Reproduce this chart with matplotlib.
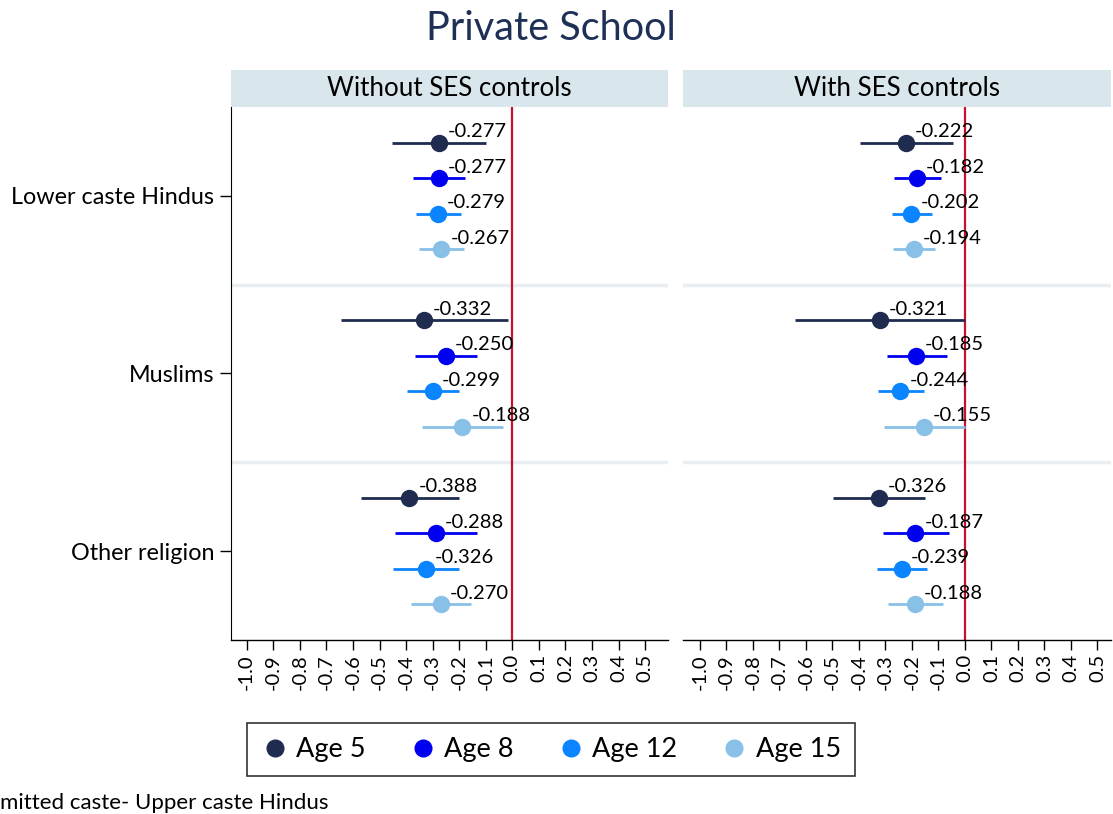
import numpy as np
import matplotlib.pyplot as plt
from matplotlib.lines import Line2D
from matplotlib.patches import Rectangle

plt.rcParams['font.family'] = ['Lato', 'DejaVu Sans']

groups = ["Lower caste Hindus", "Muslims", "Other religion"]
ages = ["Age 5", "Age 8", "Age 12", "Age 15"]
colors = ["#1f2c50", "#0000f0", "#0a84ff", "#88c0e8"]
panels = ["Without SES controls", "With SES controls"]

# rows = group, cols = age
est_no = [[-0.277, -0.277, -0.279, -0.267],
          [-0.332, -0.250, -0.299, -0.188],
          [-0.388, -0.288, -0.326, -0.270]]
lo_no = [[-0.453, -0.373, -0.363, -0.350],
         [-0.645, -0.366, -0.395, -0.340],
         [-0.570, -0.442, -0.448, -0.383]]
hi_no = [[-0.099, -0.178, -0.193, -0.182],
         [-0.017, -0.132, -0.201, -0.034],
         [-0.202, -0.132, -0.202, -0.157]]

est_ses = [[-0.222, -0.182, -0.202, -0.194],
           [-0.321, -0.185, -0.244, -0.155],
           [-0.326, -0.187, -0.239, -0.188]]
lo_ses = [[-0.395, -0.269, -0.277, -0.270],
          [-0.640, -0.296, -0.330, -0.306],
          [-0.498, -0.309, -0.331, -0.291]]
hi_ses = [[-0.046, -0.092, -0.123, -0.114],
          [0.000, -0.069, -0.155, 0.000],
          [-0.151, -0.062, -0.142, -0.083]]

xticks = np.round(np.arange(-1.0, 0.51, 0.1), 1)
xticklabels = ["%.1f" % t if abs(t) > 1e-9 else "0.0" for t in xticks]

W, H = 1113, 814
fig = plt.figure(figsize=(W / 100, H / 100), dpi=100)

def px_axes(x0, x1, y0, y1):
    return fig.add_axes([x0 / W, 1 - y1 / H, (x1 - x0) / W, (y1 - y0) / H])

ax1 = px_axes(231, 668, 107, 640)
ax2 = px_axes(683, 1111, 107, 640)

data = [(est_no, lo_no, hi_no), (est_ses, lo_ses, hi_ses)]
xlims = [(-1.059, 0.586), (-1.064, 0.551)]

for p, ax in enumerate([ax1, ax2]):
    est, lo, hi = data[p]
    ax.set_xlim(*xlims[p])
    ax.set_ylim(14, -1)
    for sep in [4, 9]:
        ax.axhline(sep, color="#e8eef2", lw=2.5, zorder=0)
    ax.axvline(0, color="#c8102e", lw=1.6, zorder=1)
    for g in range(len(groups)):
        for a in range(len(ages)):
            y = g * 5 + a
            ax.plot([lo[g][a], hi[g][a]], [y, y], color=colors[a], lw=2, zorder=2,
                    solid_capstyle='butt')
            ax.plot(est[g][a], y, 'o', color=colors[a], ms=11.5, zorder=3)
            ax.annotate("%.3f" % est[g][a], (est[g][a], y), xytext=(9, 11),
                        textcoords='offset pixels', ha='left', va='center',
                        fontsize=14.5, zorder=4)
    ax.set_xticks(xticks)
    ax.set_xticklabels(xticklabels, rotation=90, fontsize=14.5)
    ax.tick_params(axis='x', length=7, width=1, direction='out', pad=3)
    for s in ['top', 'right']:
        ax.spines[s].set_visible(False)
    ax.spines['bottom'].set_linewidth(1)
    if p == 0:
        ax.set_yticks([1.5, 6.5, 11.5])
        ax.set_yticklabels(groups, fontsize=16.8)
        ax.tick_params(axis='y', length=8, width=1, pad=4)
    else:
        ax.spines['left'].set_visible(False)
        ax.set_yticks([])
    # header strip
    ax.add_patch(Rectangle((0, 1.0), 1, 37 / 533, transform=ax.transAxes,
                           facecolor="#d9e6ec", edgecolor='none', clip_on=False))
    ax.text(0.5, 1 + 18.5 / 533, panels[p], transform=ax.transAxes,
            ha='center', va='center', fontsize=18.7)

fig.text(551 / W, 1 - 29 / H, "Private School", ha='center', va='center',
         fontsize=28.5, color="#1f3057")

handles = [Line2D([], [], marker='o', ls='none', color=c, ms=12) for c in colors]
leg = fig.legend(handles, ages, loc='center', bbox_to_anchor=(551 / W, 1 - 749.5 / H),
                 ncol=4, fontsize=19.5, frameon=True, fancybox=False,
                 handletextpad=0.3, columnspacing=1.6, borderpad=0.5, handlelength=1.0)
leg.get_frame().set_edgecolor('black')
leg.get_frame().set_linewidth(1.2)

fig.text(0, 1 - 803 / H, "mitted caste- Upper caste Hindus", ha='left', va='center',
         fontsize=16)

fig.savefig("out.png", dpi=100)
